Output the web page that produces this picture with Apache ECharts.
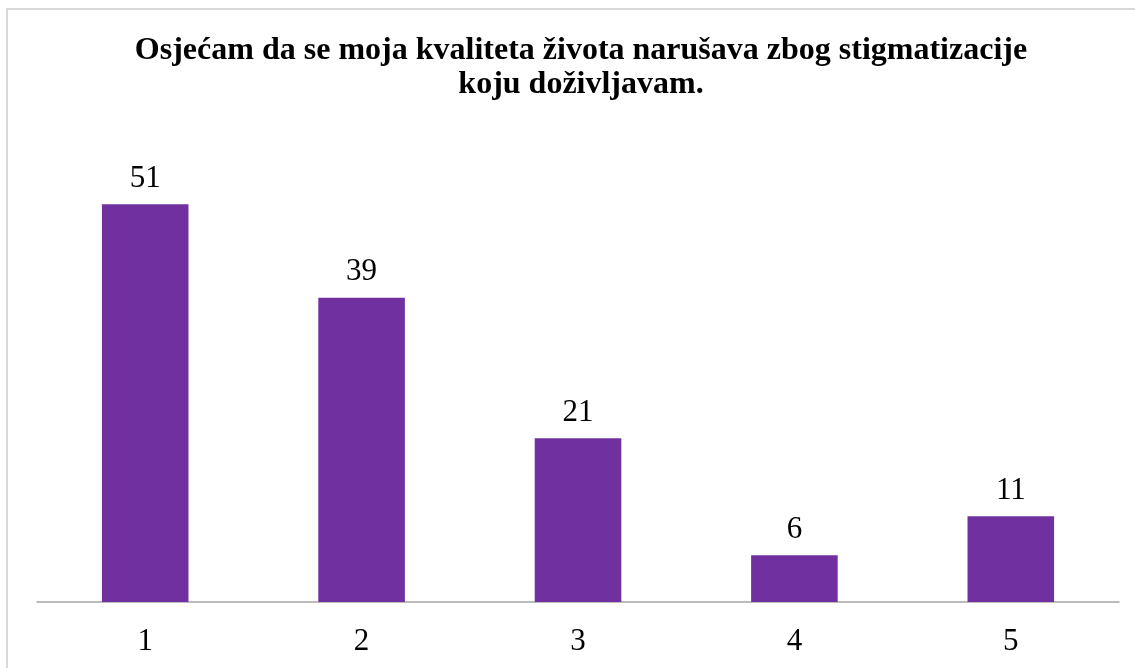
<!DOCTYPE html>
<html>
<head>
<meta charset="utf-8">
<script src="https://cdn.jsdelivr.net/npm/echarts@6/dist/echarts.min.js"></script>
<style>
  html, body { margin: 0; padding: 0; background: #fff; }
  #chart { width: 1135px; height: 668px; }
</style>
</head>
<body>
<div id="chart"></div>
<script>
const TITLE = 'Osjećam da se moja kvaliteta života narušava zbog stigmatizacije\nkoju doživljavam.'
const categories = ['1', '2', '3', '4', '5']
const values = [51, 39, 21, 6, 11]

const FONT = '"Liberation Serif", "Times New Roman", serif'
const chart = echarts.init(document.getElementById('chart'))

chart.setOption({
  animation: false,
  backgroundColor: '#fff',
  title: {
    text: TITLE,
    left: 576,
    top: 29,
    textAlign: 'center',
    textStyle: {
      fontFamily: FONT,
      fontWeight: 'bold',
      fontSize: 32,
      lineHeight: 34,
      color: '#000'
    }
  },
  graphic: [
    {
      type: 'rect',
      shape: { x: 7, y: 9, width: 1140, height: 700 },
      style: { fill: 'none', stroke: '#d9d9d9', lineWidth: 2 },
      silent: true
    }
  ],
  grid: { left: 37, right: 16, top: 134, bottom: 66 },
  xAxis: {
    type: 'category',
    data: categories,
    axisLine: { lineStyle: { color: '#a6a6a6', width: 1.5 } },
    axisTick: { show: false },
    axisLabel: { fontFamily: FONT, fontSize: 31, color: '#000', margin: 24 }
  },
  yAxis: {
    type: 'value',
    min: 0,
    max: 60,
    show: false,
    splitLine: { show: false }
  },
  series: [
    {
      type: 'bar',
      data: values,
      barCategoryGap: '60%',
      itemStyle: { color: '#7030a0' },
      label: {
        show: true,
        position: 'top',
        distance: 10,
        fontFamily: FONT,
        fontSize: 31,
        color: '#000'
      }
    }
  ]
})
</script>
</body>
</html>
